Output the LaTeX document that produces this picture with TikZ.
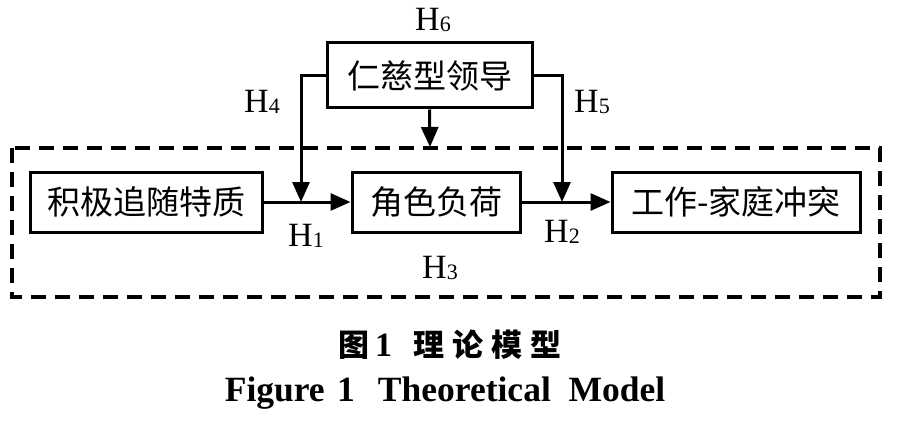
\documentclass[tikz,border=0pt]{standalone}
\usepackage{fontspec}
\setmainfont{Liberation Serif}
\newfontfamily\cjk{Noto Sans CJK SC}
\usepackage{tikz}
\usetikzlibrary{positioning, arrows.meta}

\newcommand{\hlab}[1]{H\raisebox{-1pt}{\fontsize{22}{22}\selectfont #1}}

\begin{document}
\begin{tikzpicture}[x=1pt, y=-1pt]
					\tikzstyle{factor}=[draw=black, line width=3pt, inner sep=0pt, minimum height=60pt, font=\cjk\fontsize{33}{36}\selectfont]
					\tikzstyle{hyp}=[font=\fontsize{34}{36}\selectfont, inner sep=0pt]
					\tikzstyle{arr}=[line width=3pt, -{Triangle[length=20pt, width=17pt]}]
					\useasboundingbox (0,0) rectangle (912,425);
					% frame round the three variables
					\draw[line width=3.5pt, dash pattern=on 15pt off 9pt] (12,148) rectangle (880,297);
					\node[factor, minimum width=205pt, minimum height=65pt](lead) at (429.5,75.5){仁慈型领导};
					\node[factor, minimum width=232pt](trait) at (146,202){积极追随特质};
					\node[factor, minimum width=168pt](load) at (436,202){角色负荷};
					\node[factor, minimum width=248pt](wfc) at (736,202){工作-家庭冲突};
					\coordinate (m1) at (301,202);
					\coordinate (m2) at (562,202);
					\coordinate (m3) at (430,147);
					\draw[arr] (trait) -- (load);
					\draw[arr] (load) -- (wfc);
					\draw[arr] (lead.west) -| (m1);
					\draw[arr] (lead.east) -| (m2);
					\draw[arr] (lead.south) -- (m3);
					\node[hyp](h6) at (433,20){\hlab{6}};
					\node[hyp](h4) at (262,102){\hlab{4}};
					\node[hyp](h5) at (592,102){\hlab{5}};
					\node[hyp](h1) at (306,236){\hlab{1}};
					\node[hyp](h2) at (562,232){\hlab{2}};
					\node[hyp](h3) at (440,268){\hlab{3}};
					\node[font=\cjk\bfseries\fontsize{31}{34}\selectfont, inner sep=0pt](cap) at (450,345){图\,{\rmfamily\bfseries\fontsize{34}{34}\selectfont 1}\hspace{0.7em}理\hspace{0.25em}论\hspace{0.25em}模\hspace{0.25em}型};
					\node[font=\bfseries\fontsize{35.5}{38}\selectfont, inner sep=0pt](capen) at (445,393){Figure\hspace{0.35em}1\hspace{0.65em}Theoretical\hspace{0.5em}Model};
				\end{tikzpicture}
\end{document}
